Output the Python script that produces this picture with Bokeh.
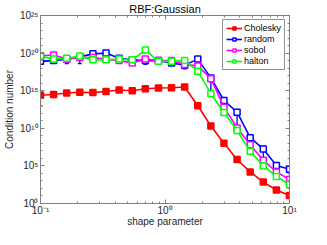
from bokeh.plotting import figure
from bokeh.models import (FixedTicker, LogAxis, Whisker, ColumnDataSource,
                          Legend, LegendItem, TeeHead, Range1d)
from bokeh.embed import file_html
from bokeh.resources import INLINE

# ---- data ----
shape_param = [0.1, 0.1274, 0.1624, 0.2069, 0.2637, 0.3360, 0.4281, 0.5456,
               0.6952, 0.8859, 1.1288, 1.4384, 1.8330, 2.3357, 2.9764, 3.7927,
               4.8329, 6.1585, 7.8476, 10.0]

# log10 of condition number
cholesky_exp = [14.4, 14.5, 14.7, 14.8, 14.75, 14.9, 15.1, 15.0, 15.25, 15.35,
                15.4, 15.5, 13.0, 10.3, 8.0, 5.85, 4.2, 2.85, 1.8, 1.05]
cholesky_lo = [13.0, 14.4, 14.6, 14.7, 14.65, 14.8, 15.0, 14.9, 15.15, 15.25,
               15.3, 15.4, 12.9, 10.2, 7.9, 5.75, 4.1, 2.75, 1.7, 0.95]
cholesky_hi = [14.8, 14.6, 14.8, 14.9, 14.85, 15.0, 15.2, 15.1, 15.35, 15.45,
               15.5, 15.6, 13.1, 10.4, 8.1, 5.95, 4.3, 2.95, 1.9, 1.15]

random_exp = [18.9, 19.0, 19.2, 19.5, 19.9, 20.0, 19.3, 19.1, 19.0, 19.0,
              18.7, 18.4, 19.2, 16.7, 13.7, 12.15, 8.75, 7.25, 5.05, 4.55]
random_lo = [18.7, 18.8, 18.6, 18.6, 19.7, 19.8, 19.1, 18.9, 18.5, 18.8,
             18.5, 17.9, 19.0, 14.5, 13.5, 10.05, 8.55, 5.8, 4.85, 3.3]
random_hi = [19.1, 19.2, 19.4, 19.7, 20.1, 20.2, 19.5, 19.3, 19.2, 19.2,
             18.9, 18.6, 19.4, 16.9, 13.9, 12.35, 8.95, 7.45, 5.25, 4.75]

sobol_exp = [19.65, 19.75, 19.2, 19.4, 19.4, 19.2, 19.0, 18.7, 19.2, 19.0,
             19.0, 18.5, 18.3, 16.6, 12.8, 10.05, 7.8, 5.75, 4.2, 3.2]

halton_exp = [19.6, 19.2, 19.3, 19.6, 19.1, 19.1, 19.2, 19.1, 20.4, 18.9,
              18.9, 19.0, 17.6, 14.6, 12.1, 9.7, 6.95, 5.0, 3.6, 2.5]

series_names = ["Cholesky", "random", "sobol", "halton"]
series_colors = ["#ff0000", "#0000ff", "#ff00ff", "#00ff00"]

x_ticks = [0.1, 1.0, 10.0]
x_tick_labels = ["10\u207b\u00b9", "10\u2070", "10\u00b9"]
x_minor = [0.2, 0.3, 0.4, 0.5, 0.6, 0.7, 0.8, 0.9,
           2.0, 3.0, 4.0, 5.0, 6.0, 7.0, 8.0, 9.0]
y_tick_exps = [0, 5, 10, 15, 20, 25]
y_tick_labels = ["10\u2070", "10\u2075", "10\u00b9\u2070", "10\u00b9\u2075",
                 "10\u00b2\u2070", "10\u00b2\u2075"]

FONT = "Liberation Sans"
AX = "#808080"
TXT = "#262626"

p = figure(width=311, height=229, x_axis_type="log", y_axis_type="log",
           x_range=Range1d(0.1, 10), y_range=Range1d(1, 1e25),
           output_backend="svg", toolbar_location=None,
           min_border_left=36, min_border_right=22,
           min_border_top=4, min_border_bottom=4,
           title="RBF:Gaussian")
p.title.text_font = FONT
p.title.text_font_size = "11px"
p.title.text_font_style = "normal"
p.title.text_color = "#000000"
p.title.align = "center"
p.title.standoff = 1
p.grid.visible = False
p.outline_line_color = AX
p.background_fill_color = "white"
p.border_fill_color = "white"

y_ticks = [10.0 ** e for e in y_tick_exps]
y_minor = [10.0 ** e for e in range(0, 26)]
xt = FixedTicker(ticks=x_ticks, minor_ticks=x_minor)
yt = FixedTicker(ticks=y_ticks, minor_ticks=y_minor)


def style_axis(ax, labels):
    ax.axis_line_color = AX
    ax.major_tick_line_color = AX
    ax.minor_tick_line_color = AX
    ax.major_tick_in = 4
    ax.major_tick_out = 0
    ax.minor_tick_in = 2
    ax.minor_tick_out = 0
    ax.major_label_text_font = FONT
    ax.major_label_text_color = TXT
    ax.axis_label_text_font = FONT
    ax.axis_label_text_color = TXT
    ax.axis_label_text_font_style = "normal"
    if labels:
        ax.major_label_text_font_size = "10px"
        ax.major_label_standoff = 1
        ax.axis_label_text_font_size = "10px"
        ax.axis_label_standoff = -3
    else:
        ax.major_label_text_font_size = "1px"
        ax.major_label_text_alpha = 0
        ax.major_label_standoff = 0


p.xaxis.ticker = xt
p.yaxis.ticker = yt
p.xaxis.major_label_overrides = {t: l for t, l in zip(x_ticks, x_tick_labels)}
p.yaxis.major_label_overrides = {t: l for t, l in zip(y_ticks, y_tick_labels)}
p.xaxis.axis_label = "shape parameter"
p.yaxis.axis_label = "Condition number"
style_axis(p.xaxis[0], True)
style_axis(p.yaxis[0], True)
p.yaxis.axis_label_standoff = 2
p.yaxis.major_label_standoff = 2

top_ax = LogAxis(ticker=xt)
right_ax = LogAxis(ticker=yt)
style_axis(top_ax, False)
style_axis(right_ax, False)
p.add_layout(top_ax, "above")
p.add_layout(right_ax, "right")

# ---- series ----
exps = [cholesky_exp, random_exp, sobol_exp, halton_exp]
items = []
for i, (name, col, ex) in enumerate(zip(series_names, series_colors, exps)):
    ys = [10.0 ** e for e in ex]
    src = ColumnDataSource(dict(x=shape_param, y=ys))
    if name == "Cholesky":
        lo = [10.0 ** e for e in cholesky_lo]
        hi = [10.0 ** e for e in cholesky_hi]
    elif name == "random":
        lo = [10.0 ** e for e in random_lo]
        hi = [10.0 ** e for e in random_hi]
    else:
        lo = hi = None
    if lo is not None:
        esrc = ColumnDataSource(dict(x=shape_param, lo=lo, hi=hi))
        w = Whisker(source=esrc, base="x", lower="lo", upper="hi",
                    line_color=col, line_width=1.3,
                    upper_head=TeeHead(size=4, line_color=col, line_width=1.3),
                    lower_head=TeeHead(size=4, line_color=col, line_width=1.3))
        p.add_layout(w)
    lr = p.line("x", "y", source=src, line_color=col, line_width=1.6)
    fill = col if name == "Cholesky" else "white"
    mr = p.scatter("x", "y", source=src, marker="square", size=6,
                   line_color=col, line_width=1.5, fill_color=fill)
    items.append(LegendItem(label=name, renderers=[lr, mr]))

legend = Legend(items=items, location="top_right")
legend.label_text_font = FONT
legend.label_text_font_size = "9px"
legend.label_text_color = "#000000"
legend.label_height = 8
legend.glyph_height = 8
legend.glyph_width = 16
legend.spacing = 1
legend.padding = 3
legend.margin = 4
legend.label_standoff = 2
legend.border_line_color = "#262626"
legend.border_line_width = 1
legend.background_fill_alpha = 1
p.add_layout(legend)

open("out.html", "w").write(file_html(p, INLINE))
